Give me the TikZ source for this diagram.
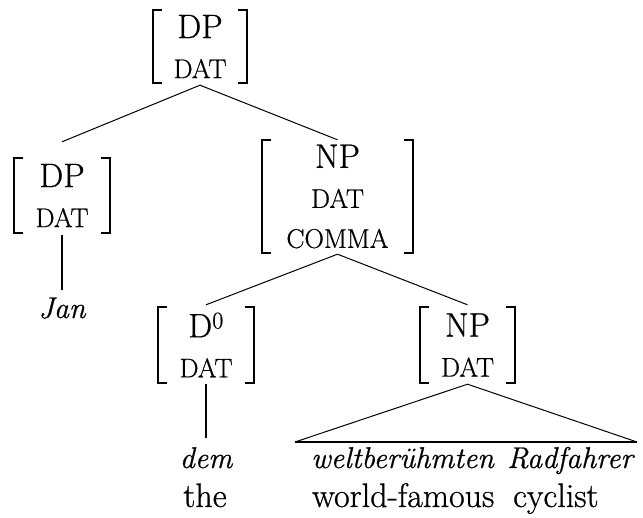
\documentclass[tikz,border=0pt]{standalone}
\usepackage{fontspec}
\setmainfont{lmroman17-regular.otf}[FakeBold=0.7, ItalicFont=lmroman12-italic.otf]
\newcommand{\smc}[1]{{\fontsize{27}{40}\selectfont #1}}
\newcommand{\itl}[1]{{\fontsize{30}{40}\selectfont\itshape #1}}
\begin{document}
\begin{tikzpicture}[x=1pt,y=1pt,
  every node/.style={font=\fontsize{34}{40}\selectfont, inner sep=0pt},
  fm/.style={minimum width=95pt, minimum height=76pt, align=center},
  edge/.style={line width=1pt},
  vedge/.style={line width=1.6pt},
  brk/.style={line width=2.2pt, line cap=butt}]
\useasboundingbox (0,0) rectangle (643,518);
\newcommand{\brackets}[1]{%
  \draw[brk] ([xshift=9pt]#1.north west) -- (#1.north west) -- (#1.south west) -- ([xshift=9pt]#1.south west);
  \draw[brk] ([xshift=-9pt]#1.north east) -- (#1.north east) -- (#1.south east) -- ([xshift=-9pt]#1.south east);}

\node[fm, minimum width=94pt, minimum height=73pt] (top) at (200,471.5) {DP\\\smc{DAT}};
\node[fm, minimum height=75pt] (ldp) at (62,322.5) {DP\\\smc{DAT}};
\node[fm, minimum width=151pt, minimum height=113pt] (np) at (337.5,321.5) {NP\\\smc{DAT}\\\smc{COMMA}};
\node[fm] (d0) at (206,173) {D\textsuperscript{0}\\\smc{DAT}};
\node[fm] (np2) at (467.5,173) {NP\\\smc{DAT}};
\foreach \n in {top,ldp,np,d0,np2} {\brackets{\n}}

\node[anchor=base] (jan) at (62,200) {\itl{Jan}};
\node[anchor=base] (dem) at (206,50) {\itl{dem}};
\node[anchor=base] (the) at (205,11) {the};
\node[anchor=base west] (welt) at (311,50) {\itl{weltberühmten}};
\node[anchor=base west] (rad) at (507,50) {\itl{Radfahrer}};
\node[anchor=base west] (wf) at (312,11) {world-famous};
\node[anchor=base west] (cyc) at (513,11) {cyclist};

\coordinate (topA) at ([yshift=-2pt]top.south);
\coordinate (ldpT) at ([yshift=16pt]ldp.north);
\coordinate (npA) at ([yshift=-1pt]np.south);
\coordinate (d0T) at ([yshift=2pt]d0.north);
\coordinate (np2T) at ([yshift=2pt]np2.north);
\coordinate (triA) at ([yshift=-1pt]np2.south);
\coordinate (triL) at (295,76);
\coordinate (triR) at (637,76);

\draw[edge] (topA) -- (ldpT);
\draw[edge] (topA) -- (np.north);
\draw[vedge] ([yshift=-2pt]ldp.south) -- ++(0,-55);
\draw[edge] (npA) -- (d0T);
\draw[edge] (npA) -- (np2T);
\draw[vedge] ([yshift=-1pt]d0.south) -- ++(0,-54);
\draw[edge] (triL) -- (triA) -- (triR);
\draw[line width=1.6pt] (triL) -- (triR);
\end{tikzpicture}
\end{document}
